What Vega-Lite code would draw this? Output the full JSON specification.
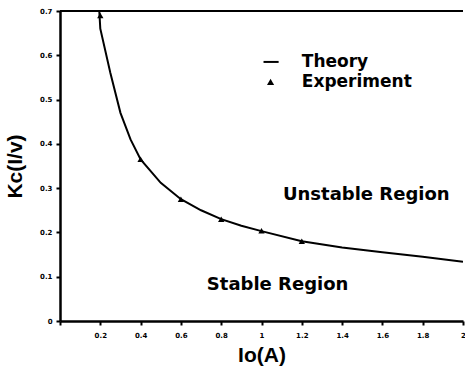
{
  "$schema": "https://vega.github.io/schema/vega-lite/v6.json",
  "width": 403,
  "height": 310,
  "autosize": {"type": "none"},
  "padding": {"left": 60, "top": 11, "right": 2, "bottom": 57},
  "background": "white",
  "config": {
    "view": {"stroke": null},
    "font": "Liberation Sans",
    "axis": {
      "grid": false,
      "domainColor": "black",
      "domainWidth": 2.5,
      "tickColor": "black",
      "tickWidth": 2,
      "tickSize": 4,
      "labelColor": "black",
      "labelFont": "DejaVu Sans",
      "labelFontWeight": "bold",
      "labelFontSize": 7,
      "titleFont": "Liberation Sans",
      "titleFontWeight": "bold",
      "titleFontSize": 21,
      "titleColor": "black"
    }
  },
  "layer": [
    {
      "data": {"values": [
        {"io": 0.195, "kc": 0.70}, {"io": 0.2, "kc": 0.66}, {"io": 0.25, "kc": 0.56},
        {"io": 0.3, "kc": 0.47}, {"io": 0.35, "kc": 0.41}, {"io": 0.4, "kc": 0.365},
        {"io": 0.5, "kc": 0.312}, {"io": 0.6, "kc": 0.275}, {"io": 0.7, "kc": 0.25},
        {"io": 0.8, "kc": 0.23}, {"io": 0.9, "kc": 0.215}, {"io": 1.0, "kc": 0.203},
        {"io": 1.2, "kc": 0.18}, {"io": 1.4, "kc": 0.166}, {"io": 1.6, "kc": 0.155},
        {"io": 1.8, "kc": 0.145}, {"io": 2.0, "kc": 0.134}
      ]},
      "mark": {"type": "line", "color": "black", "strokeWidth": 2, "clip": true},
      "encoding": {
        "x": {
          "field": "io", "type": "quantitative",
          "scale": {"domain": [0, 2], "nice": false, "zero": false},
          "axis": {
            "title": "Io(A)",
            "titlePadding": 6,
            "values": [0, 0.1, 0.2, 0.3, 0.4, 0.5, 0.6, 0.7, 0.8, 0.9, 1.0, 1.1, 1.2, 1.3, 1.4, 1.5, 1.6, 1.7, 1.8, 1.9, 2.0],
            "labelExpr": "(round(datum.value*10) % 2 == 0 && datum.value > 0) ? '' + (round(datum.value*10)/10) : ''",
            "labelPadding": 6,
            "labelFlush": false,
            "labelOverlap": false
          }
        },
        "y": {
          "field": "kc", "type": "quantitative",
          "scale": {"domain": [0, 0.7], "nice": false},
          "axis": {
            "title": "Kc(I/v)",
            "titlePadding": 14,
            "values": [0, 0.1, 0.2, 0.3, 0.4, 0.5, 0.6, 0.7],
            "format": "~g",
            "labelPadding": 4,
            "labelFlush": false,
            "labelOverlap": false
          }
        }
      }
    },
    {
      "data": {"values": [
        {"io": 0.2, "kc": 0.69}, {"io": 0.4, "kc": 0.365}, {"io": 0.6, "kc": 0.275},
        {"io": 0.8, "kc": 0.23}, {"io": 1.0, "kc": 0.204}, {"io": 1.2, "kc": 0.18}
      ]},
      "mark": {"type": "point", "shape": "triangle-up", "filled": true, "color": "black", "size": 40, "opacity": 1},
      "encoding": {
        "x": {"field": "io", "type": "quantitative"},
        "y": {"field": "kc", "type": "quantitative"}
      }
    },
    {
      "data": {"values": [{"edge": 0.7}]},
      "mark": {"type": "rule", "color": "black", "strokeWidth": 2},
      "encoding": {"y": {"field": "edge", "type": "quantitative"}}
    },
    {
      "data": {"values": [{"x1": 1.01, "x2": 1.085, "y": 0.585}]},
      "mark": {"type": "rule", "color": "black", "strokeWidth": 2},
      "encoding": {
        "x": {"field": "x1", "type": "quantitative"},
        "x2": {"field": "x2"},
        "y": {"field": "y", "type": "quantitative"}
      }
    },
    {
      "data": {"values": [{"io": 1.045, "kc": 0.54}]},
      "mark": {"type": "point", "shape": "triangle-up", "filled": true, "color": "black", "size": 50, "opacity": 1},
      "encoding": {
        "x": {"field": "io", "type": "quantitative"},
        "y": {"field": "kc", "type": "quantitative"}
      }
    },
    {
      "data": {"values": [
        {"io": 1.2, "kc": 0.585, "label": "Theory"},
        {"io": 1.2, "kc": 0.54, "label": "Experiment"}
      ]},
      "mark": {"type": "text", "font": "DejaVu Sans", "fontWeight": "bold", "fontSize": 17, "align": "left", "baseline": "middle", "color": "black"},
      "encoding": {
        "x": {"field": "io", "type": "quantitative"},
        "y": {"field": "kc", "type": "quantitative"},
        "text": {"field": "label"}
      }
    },
    {
      "data": {"values": [
        {"io": 1.52, "kc": 0.284, "label": "Unstable Region"},
        {"io": 1.08, "kc": 0.081, "label": "Stable Region"}
      ]},
      "mark": {"type": "text", "font": "DejaVu Sans", "fontWeight": "bold", "fontSize": 18, "align": "center", "baseline": "middle", "color": "black"},
      "encoding": {
        "x": {"field": "io", "type": "quantitative"},
        "y": {"field": "kc", "type": "quantitative"},
        "text": {"field": "label"}
      }
    }
  ]
}
